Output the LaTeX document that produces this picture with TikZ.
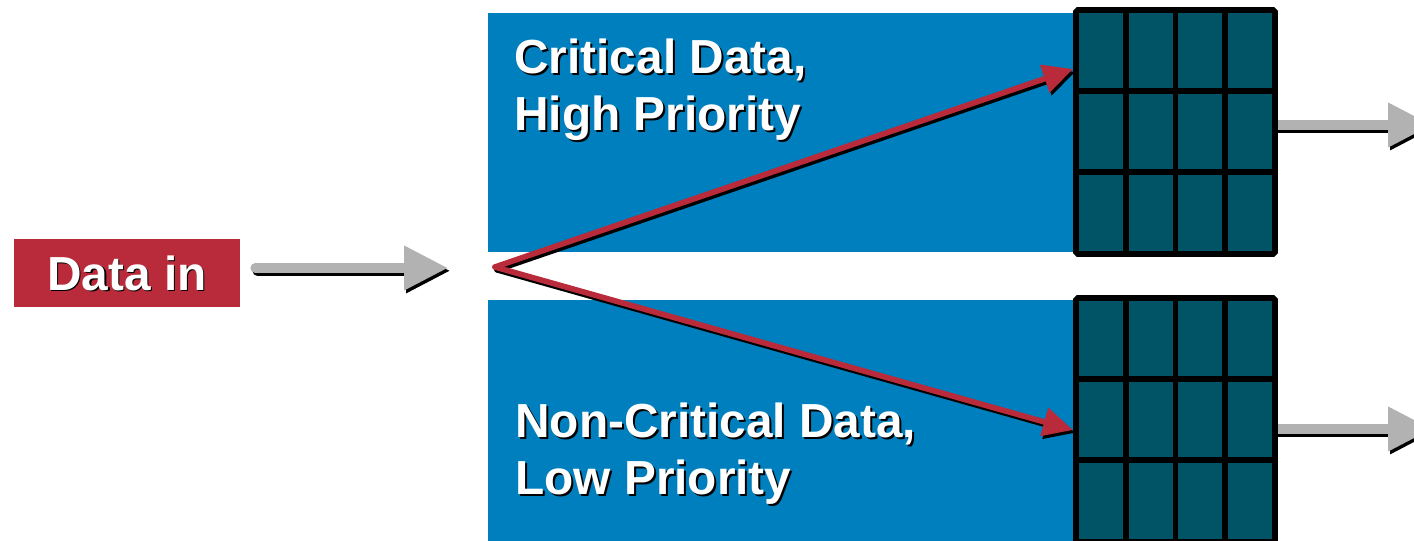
\documentclass[tikz,border=0pt]{standalone}
\usepackage{fontspec}
\setmainfont{Liberation Sans}
\usetikzlibrary{arrows.meta}

\definecolor{datared}{RGB}{185,43,58}
\definecolor{laneblue}{RGB}{0,127,190}
\definecolor{queueteal}{RGB}{0,84,102}
\definecolor{pipegray}{RGB}{178,178,178}

\begin{document}
\begin{tikzpicture}[x=0.02cm, y=-0.02cm,
    title/.style={font=\fontsize{27.2}{32}\selectfont\bfseries, text=white, align=left, inner sep=0pt},
    titleshadow/.style={title, text=black},
    inbox/.style={fill=datared, minimum width=4.52cm, minimum height=1.36cm, inner sep=0pt},
    pipe/.style={draw=pipegray, line width=5.5pt, line cap=round, -{Triangle[length=25pt,width=24pt]}},
    pipeshadow/.style={pipe, draw=black},
    route/.style={draw=datared, line width=3.2pt, line cap=round, -{Triangle[length=17pt,width=16pt]}},
    routeshadow/.style={route, draw=black},
    dropshadow/.style={transform canvas={shift={(1.2pt,-1.6pt)}}},
    queue/.style={fill=queueteal, draw=black, line width=3.2pt, rounded corners=1pt,
        minimum width=3.98cm, minimum height=4.88cm, inner sep=0pt},
    cellline/.style={black, line width=3.2pt}]
  \useasboundingbox (0,0) rectangle (1414,541);

  % lanes
  \fill[laneblue] (488,13) rectangle (1077,252);
  \fill[laneblue] (488,300) rectangle (1077,545);

  % input
  \node[inbox] (datain) at (127,273) {};
  \node[titleshadow, anchor=base] (dataintxs) at (128.5,291.5) {Data in};
  \node[title, anchor=base] (dataintxt) at (127,290) {Data in};

  \coordinate (split) at (448,268);
  \coordinate (fork) at (495,267);
  \coordinate (hin) at (1073,69);
  \coordinate (lin) at (1073,430);
  \coordinate (hout) at (1432,125);
  \coordinate (lout) at (1432,429);

  \begin{scope}[dropshadow]
    \draw[pipeshadow, shorten <=8.5pt] (datain.east |- split) -- (split);
  \end{scope}
  \draw[pipe, shorten <=8.5pt] (datain.east |- split) -- (split);

  % queues
  \foreach \o in {hout, lout} {
    \begin{scope}[dropshadow]
      \draw[pipeshadow] (1270,0 |- \o) -- (\o);
    \end{scope}
    \draw[pipe] (1270,0 |- \o) -- (\o);
  }
  \foreach \q/\qy in {qhigh/132, qlow/420} {
    \node[queue] (\q) at (1175.5,\qy) {};
    \foreach \cx in {1125.75,1175.5,1225.25}
      \draw[cellline] (\cx,\qy-122) -- (\cx,\qy+122);
    \foreach \ry in {-41,40}
      \draw[cellline] (1076,\qy+\ry) -- (1275,\qy+\ry);
  }

  % routing
  \begin{scope}[dropshadow]
    \draw[routeshadow] (fork) -- (hin);
    \draw[routeshadow] (fork) -- (lin);
  \end{scope}
  \draw[route] (fork) -- (hin);
  \draw[route] (fork) -- (lin);

  % lane titles
  \node[titleshadow, anchor=north west] (hightxs) at (516,41) {Critical Data,\\High Priority};
  \node[title, anchor=north west] (hightxt) at (514,39) {Critical Data,\\High Priority};
  \node[titleshadow, anchor=north west] (lowtxs) at (517,405) {Non-Critical Data,\\Low Priority};
  \node[title, anchor=north west] (lowtxt) at (515,403) {Non-Critical Data,\\Low Priority};
\end{tikzpicture}
\end{document}
